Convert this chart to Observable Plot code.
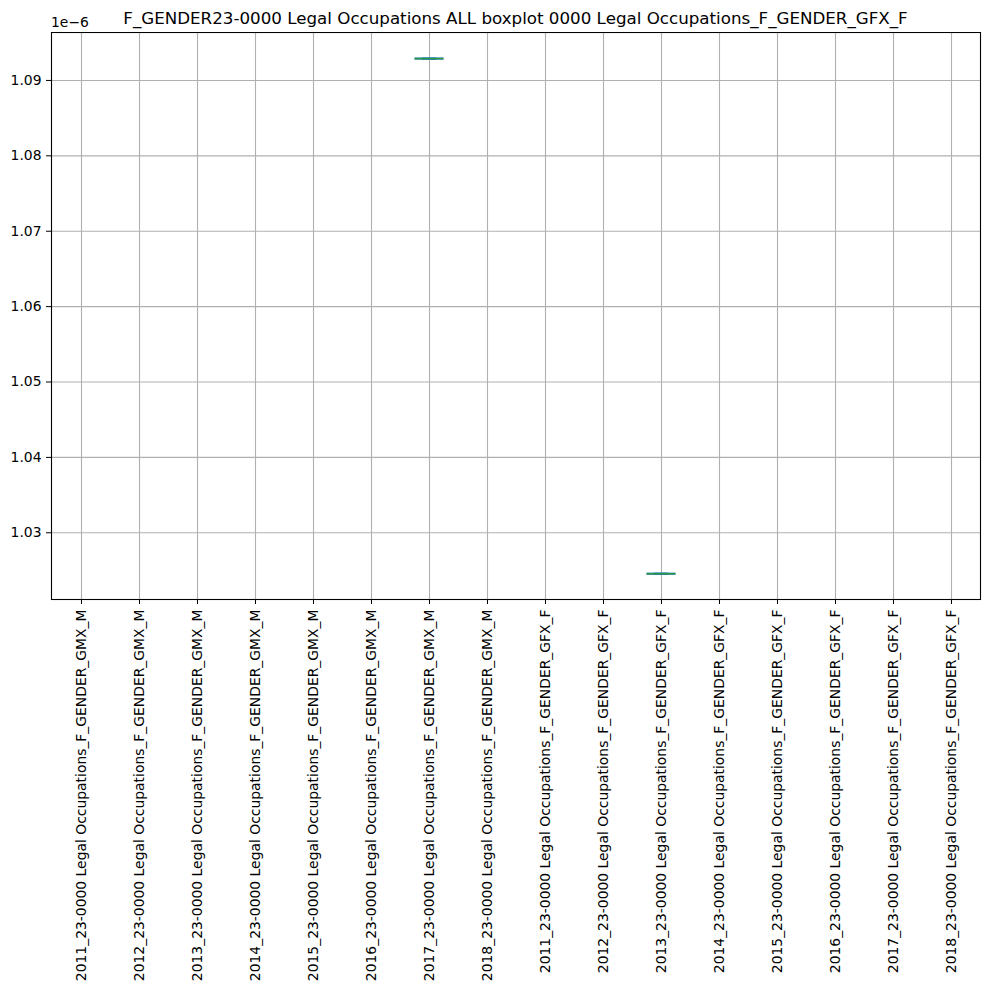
<!DOCTYPE html>
<html>
<head>
<meta charset="utf-8">
<script src="https://cdn.jsdelivr.net/npm/d3@7"></script>
<script src="https://cdn.jsdelivr.net/npm/@observablehq/plot@0.6"></script>
<style>
  body { margin: 0; background: #fff; }
  #wrap { width: 989px; position: relative; font-family: "DejaVu Sans", sans-serif; }
  #title { height: 32px; box-sizing: border-box; padding: 10px 9px 0 51px; text-align: center;
           font-size: 16.7px; line-height: 1; color: #000; white-space: nowrap; }
  #offset { position: absolute; left: 51px; top: 16px; font-size: 13.9px; line-height: 1; color: #000; }
</style>
</head>
<body>
<div id="wrap">
  <div id="title">F_GENDER23-0000 Legal Occupations ALL boxplot 0000 Legal Occupations_F_GENDER_GFX_F</div>
  <div id="offset">1e−6</div>
  <div id="chart"></div>
</div>
<script>
const categories = [
  "2011_23-0000 Legal Occupations_F_GENDER_GMX_M",
  "2012_23-0000 Legal Occupations_F_GENDER_GMX_M",
  "2013_23-0000 Legal Occupations_F_GENDER_GMX_M",
  "2014_23-0000 Legal Occupations_F_GENDER_GMX_M",
  "2015_23-0000 Legal Occupations_F_GENDER_GMX_M",
  "2016_23-0000 Legal Occupations_F_GENDER_GMX_M",
  "2017_23-0000 Legal Occupations_F_GENDER_GMX_M",
  "2018_23-0000 Legal Occupations_F_GENDER_GMX_M",
  "2011_23-0000 Legal Occupations_F_GENDER_GFX_F",
  "2012_23-0000 Legal Occupations_F_GENDER_GFX_F",
  "2013_23-0000 Legal Occupations_F_GENDER_GFX_F",
  "2014_23-0000 Legal Occupations_F_GENDER_GFX_F",
  "2015_23-0000 Legal Occupations_F_GENDER_GFX_F",
  "2016_23-0000 Legal Occupations_F_GENDER_GFX_F",
  "2017_23-0000 Legal Occupations_F_GENDER_GFX_F",
  "2018_23-0000 Legal Occupations_F_GENDER_GFX_F"
];
// single observation per category (null = no data)
const values = [null, null, null, null, null, null, 1.0929e-6, null,
                null, null, 1.02457e-6, null, null, null, null, null];
const yTicks = [1.03e-6, 1.04e-6, 1.05e-6, 1.06e-6, 1.07e-6, 1.08e-6, 1.09e-6];

const data = categories.map((c, i) => ({cat: c, v: values[i]})).filter(d => d.v != null);

const bw = (980 - 51) / categories.length;

const chart = Plot.plot({
  width: 989,
  height: 958,
  marginTop: 0,
  marginLeft: 51,
  marginRight: 9,
  marginBottom: 391,
  style: {fontFamily: "DejaVu Sans, sans-serif", fontSize: "13.9px", color: "#000", background: "#fff"},
  x: {type: "band", domain: categories, padding: 0, label: null},
  y: {domain: [1.02115e-6, 1.09636e-6], label: null},
  marks: [
    Plot.gridX(categories, {x: d => d, stroke: "#b0b0b0", strokeOpacity: 1, strokeWidth: 1.1}),
    Plot.gridY(yTicks, {y: d => d, stroke: "#b0b0b0", strokeOpacity: 1, strokeWidth: 1.1}),
    Plot.axisX({tickRotate: -90, tickSize: 5, tickPadding: 5, fontSize: 13.9, stroke: "#000"}),
    Plot.axisY({ticks: yTicks, tickSize: 5, tickPadding: 5, fontSize: 13.9,
                tickFormat: d => (d * 1e6).toFixed(2), stroke: "#000"}),
    // box (q1/q3 edges collapsed)
    Plot.tickY(data, {x: "cat", y: "v", stroke: "#1f77b4", strokeWidth: 2.2,
                      insetLeft: bw * 0.25, insetRight: bw * 0.25}),
    // caps
    Plot.tickY(data, {x: "cat", y: "v", stroke: "#1f77b4", strokeWidth: 2.2,
                      insetLeft: bw * 0.375, insetRight: bw * 0.375}),
    // median
    Plot.tickY(data, {x: "cat", y: "v", stroke: "#2ca02c", strokeWidth: 1.4, strokeOpacity: 0.85,
                      insetLeft: bw * 0.25, insetRight: bw * 0.25}),
    Plot.frame({stroke: "#000", strokeWidth: 1.1})
  ]
});
document.getElementById("chart").appendChild(chart);
</script>
</body>
</html>
